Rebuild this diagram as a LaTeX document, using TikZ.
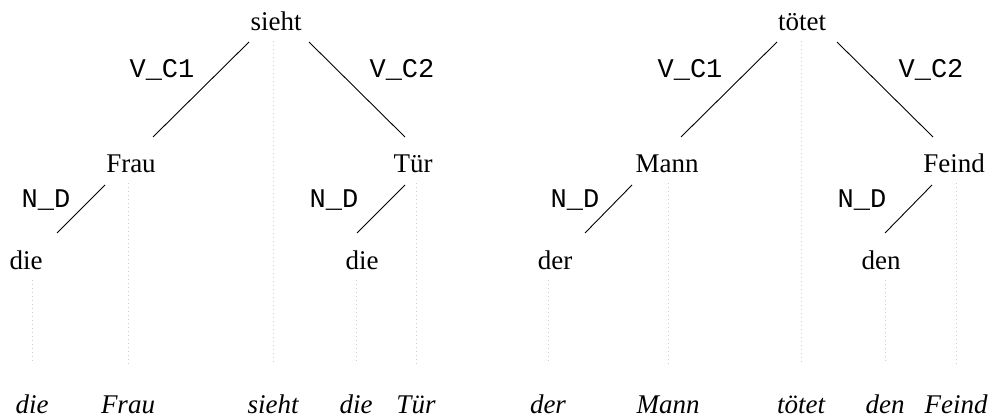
\documentclass[tikz,border=0pt]{standalone}
\usepackage{fontspec}
\setmainfont{Liberation Serif}
\setmonofont{Liberation Mono}

\begin{document}
\begin{tikzpicture}[
    x=1pt, y=-1pt,
    every node/.style={inner sep=2pt, anchor=base},
    word/.style={font=\fontsize{27}{32}\selectfont},
    gloss/.style={font=\fontsize{27}{32}\selectfont\itshape},
    rel/.style={font=\fontsize{27}{32}\selectfont\ttfamily, midway},
    dep/.style={draw, line width=0.9pt},
    proj/.style={draw=gray!40, line width=0.6pt, dash pattern=on 1pt off 3pt,
        shorten <=8pt, shorten >=29pt}
]
\useasboundingbox (0,0) rectangle (994,419);

% Tree 1
\node[word] (sieht) at (276,31) {sieht};
\node[word] (frau) at (131,173) {Frau};
\node[word] (tuer) at (413,173) {Tür};
\node[word] (die1) at (26,270) {die};
\node[word] (die2) at (362,270) {die};

% Tree 2
\node[word] (toetet) at (802,31) {tötet};
\node[word] (mann) at (667,173) {Mann};
\node[word] (feind) at (954,173) {Feind};
\node[word] (der) at (555,270) {der};
\node[word] (den) at (881,270) {den};

% Sentence line
\node[gloss] (g1) at (32,414) {die};
\node[gloss] (g2) at (128,414) {Frau};
\node[gloss] (g3) at (273,414) {sieht};
\node[gloss] (g4) at (356,414) {die};
\node[gloss] (g5) at (416,414) {Tür};
\node[gloss] (g6) at (548,414) {der};
\node[gloss] (g7) at (668,414) {Mann};
\node[gloss] (g8) at (801,414) {tötet};
\node[gloss] (g9) at (885,414) {den};
\node[gloss] (g10) at (956,414) {Feind};

% Dependencies
\draw[dep] ([shift={(-27,11)}]sieht.base) -- ([shift={(22,-36)}]frau.base)
    node[rel, xshift=-39pt, yshift=12pt] {V\_C1};
\draw[dep] ([shift={(33,11)}]sieht.base) -- ([shift={(-8,-36)}]tuer.base)
    node[rel, xshift=45pt, yshift=12pt] {V\_C2};
\draw[dep] ([shift={(-26,12)}]frau.base) -- ([shift={(31,-37)}]die1.base)
    node[rel, xshift=-35pt, yshift=1pt] {N\_D};
\draw[dep] ([shift={(-8,12)}]tuer.base) -- ([shift={(-5,-37)}]die2.base)
    node[rel, xshift=-47pt, yshift=1pt] {N\_D};

\draw[dep] ([shift={(-25,11)}]toetet.base) -- ([shift={(14,-36)}]mann.base)
    node[rel, xshift=-39pt, yshift=12pt] {V\_C1};
\draw[dep] ([shift={(35,11)}]toetet.base) -- ([shift={(-21,-36)}]feind.base)
    node[rel, xshift=46pt, yshift=12pt] {V\_C2};
\draw[dep] ([shift={(-35,12)}]mann.base) -- ([shift={(30,-37)}]der.base)
    node[rel, xshift=-33.5pt, yshift=1pt] {N\_D};
\draw[dep] ([shift={(-22,12)}]feind.base) -- ([shift={(4,-37)}]den.base)
    node[rel, xshift=-46.5pt, yshift=1pt] {N\_D};

% Projection lines
\draw[proj] (g1 |- die1.south) -- (g1.north);
\draw[proj] (g2 |- frau.south) -- (g2.north);
\draw[proj] (g3 |- sieht.south) -- (g3.north);
\draw[proj] (g4 |- die2.south) -- (g4.north);
\draw[proj] (g5 |- tuer.south) -- (g5.north);
\draw[proj] (g6 |- der.south) -- (g6.north);
\draw[proj] (g7 |- mann.south) -- (g7.north);
\draw[proj] (g8 |- toetet.south) -- (g8.north);
\draw[proj] (g9 |- den.south) -- (g9.north);
\draw[proj] (g10 |- feind.south) -- (g10.north);

\end{tikzpicture}
\end{document}
